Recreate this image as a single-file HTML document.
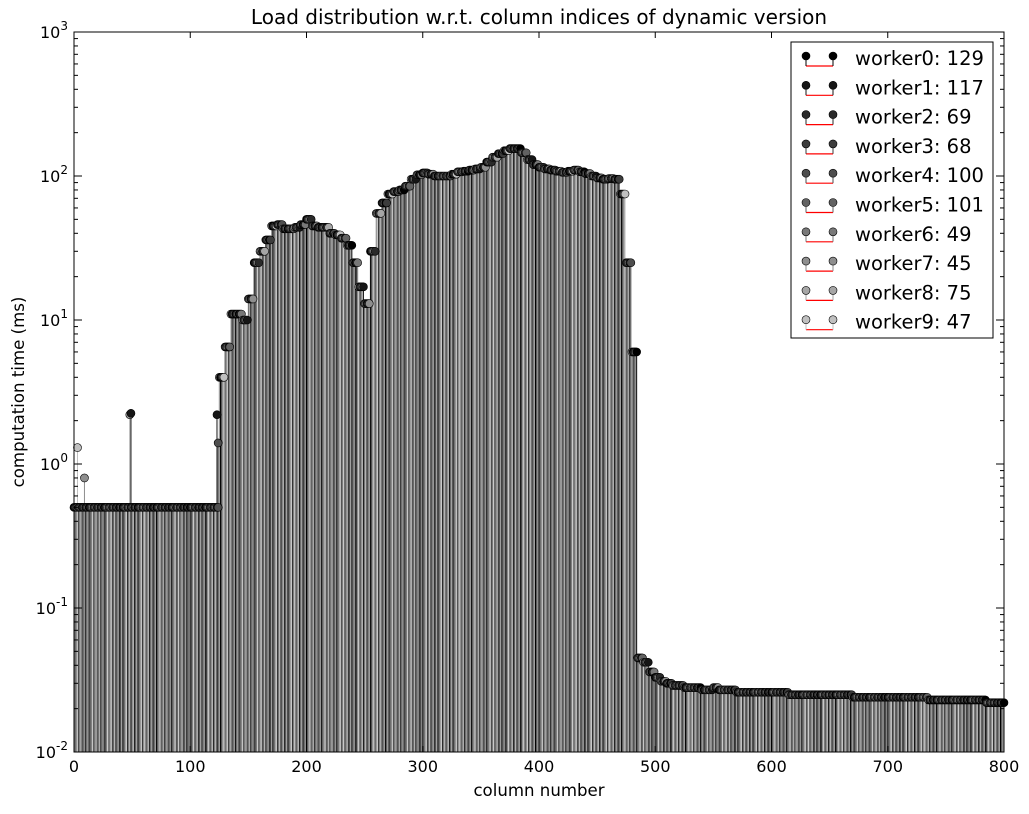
<!DOCTYPE html>
<html><head><meta charset="utf-8"><style>
body{margin:0;background:#fff;width:1029px;height:810px;overflow:hidden;font-family:"DejaVu Sans","Liberation Sans",sans-serif}
</style></head><body>
<svg id="chart" width="1029" height="810" xmlns="http://www.w3.org/2000/svg" font-family="DejaVu Sans, Liberation Sans, sans-serif">
<text x="539" y="24" font-size="20" text-anchor="middle">Load distribution w.r.t. column indices of dynamic version</text>
<g id="stems"></g>
<g id="marks"></g>
<rect x="74" y="32" width="930" height="720" fill="none" stroke="#000" stroke-width="1"/>
<g id="axes"></g>
<text x="539" y="796" font-size="16.6" text-anchor="middle">column number</text>
<text transform="translate(24,392) rotate(-90)" font-size="16.6" text-anchor="middle">computation time (ms)</text>
<g id="legend"></g>
</svg>
<script>
const workerNames = ['worker0','worker1','worker2','worker3','worker4','worker5','worker6','worker7','worker8','worker9'];
const workerCounts = [129,117,69,68,100,101,49,45,75,47];
const workerColors = ['#000','#161616','#2a2a2a','#3c3c3c','#4e4e4e','#626262','#787878','#8e8e8e','#a6a6a6','#c0c0c0'];
const blockStep = 5;
const values = [0.5,0.5,0.5,0.5,0.5,0.5,0.5,0.5,0.5,0.5,0.5,0.5,0.5,0.5,0.5,0.5,0.5,0.5,0.5,0.5,0.5,0.5,0.5,0.5,0.5,
4,6.5,11,11,10,14,25,30,36,45,46,43,43,44,46,50,45,44,44,40,39,37,33,25,17,13,30,55,65,75,78,80,85,95,102,105,103,100,100,100,103,107,108,110,112,115,125,135,143,150,155,155,145,130,120,115,112,110,108,106,108,110,107,104,100,97,95,96,95,75,25,6,
0.045,0.042,0.036,0.033,0.031,0.030,0.029,0.029,0.028,0.028,0.028,0.027,0.027,0.028,0.027,0.027,0.027,0.026,0.026,0.026,0.026,0.026,0.026,0.026,
0.026,0.026,0.025,0.025,0.025,0.025,0.025,0.025,0.025,0.025,0.025,0.025,0.025,0.024,0.024,0.024,0.024,0.024,0.024,0.024,0.024,0.024,0.024,0.024,0.024,0.024,
0.023,0.023,0.023,0.023,0.023,0.023,0.023,0.023,0.023,0.023,0.022,0.022,0.022,0.022,0.022,0.022,0.022];
const spikeCols = [3,9,48,49,123,124];
const spikeVals = [1.3,0.8,2.2,2.25,2.2,1.4];
const xTicks = [0,100,200,300,400,500,600,700,800];
const yExps = [-2,-1,0,1,2,3];

const NS='http://www.w3.org/2000/svg';
const X0=74,X1=1004,Y0=752,Y1=32;
const xs=c=>X0+(c/800)*(X1-X0);
const ys=v=>Y0-(Math.log10(v)+2)/5*(Y0-Y1);
function mk(tag,attrs,parent){const e=document.createElementNS(NS,tag);for(const k in attrs)e.setAttribute(k,attrs[k]);parent.appendChild(e);return e;}
const stems=document.getElementById('stems'),marks=document.getElementById('marks');
const workerOf=c=>(c*3+Math.floor(c/10))%10;
const pts=[];
values.forEach((v,i)=>{for(let k=0;k<blockStep;k++){const c=i*blockStep+k;if(c>800)break;pts.push([c,v]);}});
spikeCols.forEach((c,i)=>pts.push([c,spikeVals[i]]));
pts.forEach(([c,v])=>{
  const col=workerColors[workerOf(c)];
  const l=mk('line',{x1:xs(c),x2:xs(c),y1:Y0,y2:ys(v),stroke:col,'stroke-width':1},stems);
  
  
});
pts.forEach(([c,v])=>{
  const col=workerColors[workerOf(c)];
  const m=mk('circle',{cx:xs(c),cy:ys(v),r:4,fill:col,stroke:'#000','stroke-width':0.6},marks);
  
  
});
const axes=document.getElementById('axes');
xTicks.forEach(t=>{
  const x=xs(t);
  mk('line',{x1:x,x2:x,y1:Y0,y2:Y0-6,stroke:'#000'},axes);
  mk('line',{x1:x,x2:x,y1:Y1,y2:Y1+6,stroke:'#000'},axes);
  const tx=mk('text',{x:x,y:Y0+20,'font-size':16,'text-anchor':'middle'},axes);
  tx.textContent=t;
  
  
});
yExps.forEach(e=>{
  const y=ys(Math.pow(10,e));
  mk('line',{x1:X0,x2:X0+8,y1:y,y2:y,stroke:'#000'},axes);
  mk('line',{x1:X1,x2:X1-8,y1:y,y2:y,stroke:'#000'},axes);
  const tx=mk('text',{x:X0-6,y:y+6,'font-size':16,'text-anchor':'end'},axes);
  
  
  tx.appendChild(document.createTextNode('10'));
  const s=mk('tspan',{dy:-8,'font-size':12},tx);s.textContent=e;
  if(e<3){for(let m=2;m<10;m++){const yy=ys(m*Math.pow(10,e));
    mk('line',{x1:X0,x2:X0+4,y1:yy,y2:yy,stroke:'#000'},axes);
    mk('line',{x1:X1,x2:X1-4,y1:yy,y2:yy,stroke:'#000'},axes);}}
});
const lg=document.getElementById('legend');
mk('rect',{x:791,y:42,width:202,height:296,fill:'#fff',stroke:'#000','stroke-width':1},lg);
workerNames.forEach((n,i)=>{
  const y=58+i*29.3;
  const g=mk('g',{},lg);
  
  
  mk('line',{x1:806,x2:833,y1:y+8,y2:y+8,stroke:'red','stroke-width':1.2},g);
  mk('line',{x1:806,x2:806,y1:y,y2:y+8,stroke:workerColors[i]},g);
  mk('line',{x1:833,x2:833,y1:y,y2:y+8,stroke:workerColors[i]},g);
  mk('circle',{cx:806,cy:y-2,r:4,fill:workerColors[i],stroke:'#000','stroke-width':0.6},g);
  mk('circle',{cx:833,cy:y-2,r:4,fill:workerColors[i],stroke:'#000','stroke-width':0.6},g);
  const t=mk('text',{x:855,y:y+7,'font-size':19.5},g);
  t.textContent=n+': '+workerCounts[i];
});
</script>
</body></html>
